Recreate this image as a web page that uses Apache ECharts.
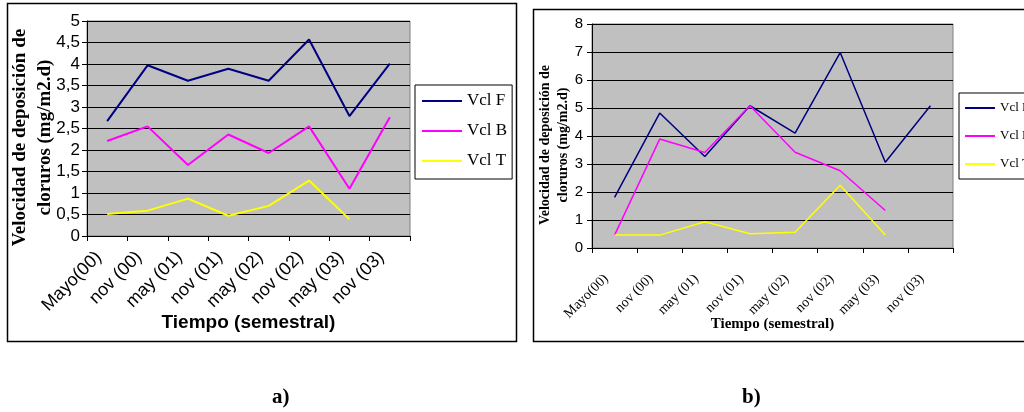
<!DOCTYPE html>
<html><head><meta charset="utf-8">
<script src="https://cdn.jsdelivr.net/npm/echarts@6/dist/echarts.min.js"></script>
<style>html,body{margin:0;padding:0;background:#fff}#c{width:1024px;height:412px}</style>
</head><body><div id="c"></div>
<script>
const categories = ['Mayo(00)', 'nov (00)', 'may (01)', 'nov (01)', 'may (02)', 'nov (02)', 'may (03)', 'nov (03)'];
const seriesNames = ['Vcl F', 'Vcl B', 'Vcl T'];
// chart a)
const aVclF = [2.67, 3.97, 3.61, 3.89, 3.61, 4.57, 2.79, 4.01];
const aVclB = [2.21, 2.55, 1.65, 2.36, 1.93, 2.55, 1.10, 2.76];
const aVclT = [0.51, 0.59, 0.87, 0.47, 0.70, 1.29, 0.39, null];
// chart b)
const bVclF = [1.81, 4.82, 3.27, 5.08, 4.10, 6.98, 3.06, 5.08];
const bVclB = [0.46, 3.89, 3.41, 5.08, 3.42, 2.76, 1.34, null];
const bVclT = [0.46, 0.46, 0.94, 0.51, 0.56, 2.24, 0.46, null];
const yTicksA = [0, 0.5, 1, 1.5, 2, 2.5, 3, 3.5, 4, 4.5, 5];
const yTicksB = [0, 1, 2, 3, 4, 5, 6, 7, 8];
const colors = ['#000080', '#FF00FF', '#FFFF00'];

const sans = 'Liberation Sans';
const serif = 'Liberation Serif';
const chart = echarts.init(document.getElementById('c'), null, {renderer: 'canvas'});

function mkX(gi, fontFamily, fontSize, margin, pad, nameSize, nameFamily, nameGap) {
  return {
    type: 'category', gridIndex: gi, data: categories, boundaryGap: true,
    axisLine: {lineStyle: {color: '#000', width: 1}},
    axisTick: {show: true, length: 5, lineStyle: {color: '#000'}},
    axisLabel: {rotate: 45, interval: 0, margin: margin, color: '#000', fontFamily: fontFamily, fontSize: fontSize,
      padding: [0, pad, 0, 0]},
    name: 'Tiempo (semestral)', nameLocation: 'middle', nameGap: nameGap, nameMoveOverlap: false,
    nameTextStyle: {fontFamily: nameFamily, fontWeight: 'bold', fontSize: nameSize, color: '#000'},
    splitLine: {show: false}
  };
}
function mkY(gi, ticks, interval, fontSize, margin, nameSize, nameGap, lh, npad) {
  return {
    type: 'value', gridIndex: gi, min: ticks[0], max: ticks[ticks.length - 1], interval: interval,
    axisLine: {show: true, lineStyle: {color: '#000', width: 1}},
    axisTick: {show: true, length: 5, lineStyle: {color: '#000'}},
    axisLabel: {color: '#000', fontFamily: sans, fontSize: fontSize, margin: margin,
      formatter: v => String(v).replace('.', ',')},
    splitLine: {show: true, lineStyle: {color: '#000', width: 1}},
    name: 'Velocidad de deposición de\ncloruros (mg/m2.d)', nameLocation: 'middle', nameGap: nameGap, nameMoveOverlap: false,
    nameTextStyle: {fontFamily: serif, fontWeight: 'bold', fontSize: nameSize, color: '#000', lineHeight: lh,
      padding: [0, npad, 0, 0]}
  };
}
function mkSeries(data, idx, xi, w) {
  return {
    name: seriesNames[idx], type: 'line', xAxisIndex: xi, yAxisIndex: xi, data: data,
    symbol: 'none', connectNulls: false, smooth: false, silent: true,
    lineStyle: {color: colors[idx], width: w}, itemStyle: {color: colors[idx]}
  };
}

chart.setOption({
  animation: false,
  color: colors,
  grid: [
    {left: 87, top: 21, width: 323, height: 215, show: true, backgroundColor: '#C0C0C0', borderColor: '#808080', borderWidth: 1},
    {left: 592, top: 24, width: 361, height: 224, show: true, backgroundColor: '#C0C0C0', borderColor: '#808080', borderWidth: 1}
  ],
  xAxis: [
    mkX(0, sans, 18, 10, 12, 19, sans, 77),
    mkX(1, serif, 14, 20, 12, 15, serif, 69)
  ],
  yAxis: [
    mkY(0, yTicksA, 0.5, 17, 7, 19, 29, 25, 18),
    mkY(1, yTicksB, 1, 15, 9, 14, 20, 18, 18)
  ],
  legend: [
    {orient: 'vertical', left: 415, top: 85, padding: [6, 5, 8, 7], itemGap: 10,
     itemWidth: 40, itemHeight: 2, icon: 'rect', borderColor: '#000', borderWidth: 1, backgroundColor: '#fff',
     data: seriesNames.map(n => ({name: n})),
     textStyle: {fontFamily: serif, fontSize: 17, color: '#000', lineHeight: 20}},
    {orient: 'vertical', left: 959, top: 93, padding: [6, 20, 6, 6], itemGap: 10,
     itemWidth: 30, itemHeight: 2, icon: 'rect', borderColor: '#000', borderWidth: 1, backgroundColor: '#fff',
     data: seriesNames.map(n => ({name: n})),
     textStyle: {fontFamily: serif, fontSize: 13, color: '#000', lineHeight: 18}}
  ],
  graphic: [
    {type: 'rect', shape: {x: 7.5, y: 3.5, width: 509, height: 338}, style: {fill: null, stroke: '#000', lineWidth: 1.5}, z: -1},
    {type: 'rect', shape: {x: 533.5, y: 9.5, width: 520, height: 332}, style: {fill: null, stroke: '#000', lineWidth: 1.5}, z: -1},
    {type: 'text', left: 272, top: 387, style: {text: 'a)', font: 'bold 21px "Liberation Serif"', fill: '#000'}},
    {type: 'text', left: 742, top: 387, style: {text: 'b)', font: 'bold 21px "Liberation Serif"', fill: '#000'}}
  ],
  series: [
    mkSeries(aVclF, 0, 0, 2), mkSeries(aVclB, 1, 0, 2), mkSeries(aVclT, 2, 0, 2),
    mkSeries(bVclF, 0, 1, 1.5), mkSeries(bVclB, 1, 1, 1.5), mkSeries(bVclT, 2, 1, 1.5)
  ]
});
</script></body></html>
